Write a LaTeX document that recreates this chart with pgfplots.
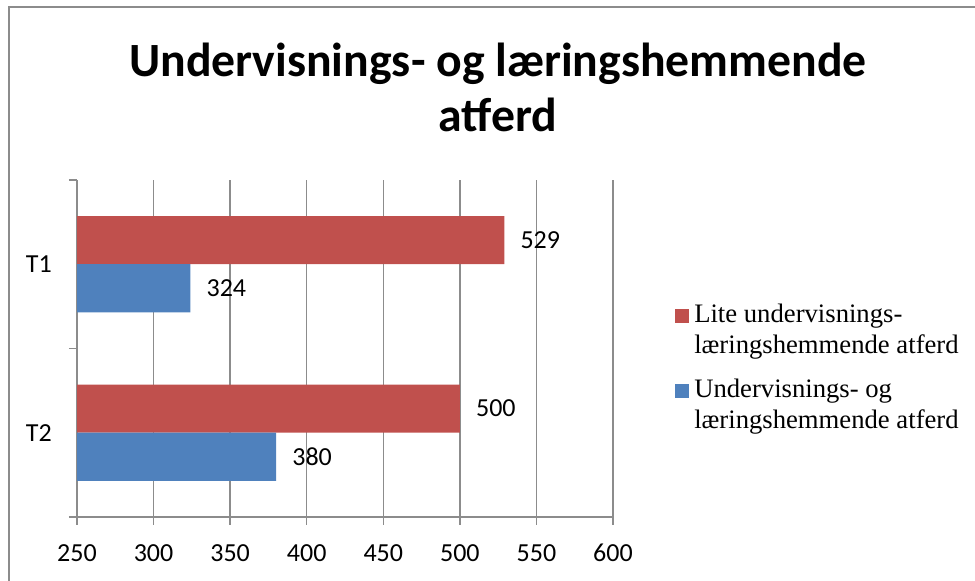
\documentclass[border=0pt]{standalone}
\usepackage{pgfplots}
\pgfplotsset{compat=1.18}
\usepackage{fontspec}
\setmainfont{Carlito}
\newfontfamily\legfont{Liberation Serif}
\definecolor{barred}{HTML}{C0504D}
\definecolor{barblue}{HTML}{4F81BD}
\definecolor{gridgray}{HTML}{8C8C8C}
\begin{document}
\begin{tikzpicture}[x=0.75pt,y=0.75pt]
\useasboundingbox (0,0) rectangle (975,581);
\draw[gridgray, line width=1.1pt] (9,0) -- (9,574) -- (975,574);
\node[font=\fontsize{35.8}{41}\selectfont\bfseries, anchor=base, inner sep=0pt] at (498,504) {Undervisnings- og læringshemmende};
\node[font=\fontsize{35.8}{41}\selectfont\bfseries, anchor=base, inner sep=0pt] at (498,449) {atferd};
\begin{axis}[
  at={(57.75pt,48pt)}, anchor=south west,
  scale only axis, width=402pt, height=252.75pt,
  xbar, bar width=0.286,
  xmin=250, xmax=600, ymin=-0.5, ymax=1.5,
  xtick={250,300,...,600},
  ytick={-0.5,0.5,1.5}, yticklabels={},
  extra y ticks={0,1}, extra y tick labels={T2,T1},
  extra y tick style={major tick length=0pt, yticklabel style={inner sep=0pt, xshift=-18.75pt, font=\fontsize{19.5}{23}\selectfont}},
  axis x line*=bottom, axis y line*=left,
  axis line style={gridgray, line width=1pt},
  tick align=outside, major tick length=6pt,
  tick style={gridgray, line width=1pt},
  xmajorgrids, grid style={gridgray, line width=1pt},
  /pgf/number format/assume math mode=true,
  xticklabel style={inner sep=0pt, yshift=-14.25pt, font=\fontsize{19.5}{23}\selectfont},
  nodes near coords, nodes near coords align={horizontal},
  every node near coord/.append style={font=\fontsize{19.5}{23}\selectfont, anchor=west, inner sep=0pt, xshift=12pt, text=black},
  legend style={at={(axis description cs:1.1157,0.677)}, anchor=north west, draw=none, fill=none, inner sep=0pt,
     nodes={inner sep=0pt}, column sep=3.75pt, font=\legfont\fontsize{20}{23}\selectfont},
  legend cell align=left,
  legend image code/.code={\path[draw=none,fill=none] (0pt,-38pt) -- (0pt,18pt); \fill[#1] (0pt,-7.5pt) rectangle (10.5pt,3pt);},
]
\addplot[fill=barred, draw=none, bar shift=0.143] coordinates {(500,0) (529,1)};
\addplot[fill=barblue, draw=none, bar shift=-0.143] coordinates {(380,0) (324,1)};
\legend{{\begin{tabular}[t]{@{}l@{}}Lite undervisnings-\\læringshemmende atferd\end{tabular}},
        {\begin{tabular}[t]{@{}l@{}}Undervisnings- og\\læringshemmende atferd\end{tabular}}}
\end{axis}
\end{tikzpicture}
\end{document}
